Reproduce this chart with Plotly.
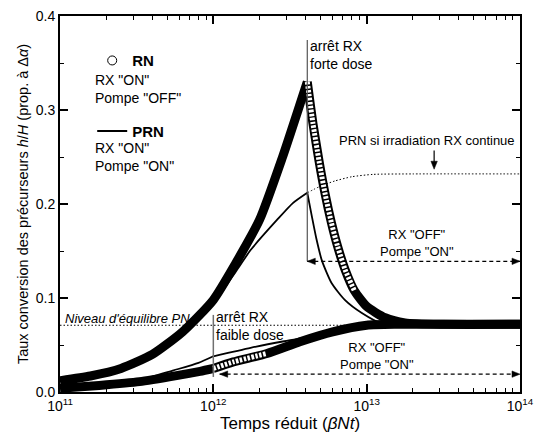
import math
import plotly.graph_objects as go

FONT = "Liberation Sans, Arial, Helvetica, sans-serif"

# ---------------- data (t = reduced time beta*N*t) ----------------
x_range_t = [1e11, 1e14]
eq_level = 0.071                  # Niveau d'equilibre PN
t_stop_fort = 4.1e12              # arret RX, forte dose
t_stop_faible = 1e12              # arret RX, faible dose

# RN (circles) - forte dose, RX "ON"
rn_fort_on_t = [1e11, 1.58e11, 2.5e11, 4e11, 6.3e11, 1e12, 1.4e12, 2e12, 2.8e12, 4.1e12]
rn_fort_on_y = [0.012, 0.017, 0.025, 0.040, 0.064, 0.098, 0.137, 0.183, 0.248, 0.330]
# RN - forte dose, RX "OFF", pompe "ON"
rn_fort_off_t = [4.1e12, 4.47e12, 4.9e12, 5.37e12, 5.89e12, 6.46e12, 7.24e12, 8.3e12,
                 1e13, 1.32e13, 1.78e13, 3.16e13, 1e14]
rn_fort_off_y = [0.330, 0.285, 0.245, 0.210, 0.180, 0.155, 0.130, 0.108,
                 0.091, 0.079, 0.0735, 0.072, 0.072]
# RN - faible dose, RX "ON"
rn_faib_on_t = [1e11, 1.8e11, 3.3e11, 6e11, 8.2e11, 1e12]
rn_faib_on_y = [0.004, 0.007, 0.011, 0.018, 0.022, 0.025]
# RN - faible dose, RX "OFF"
rn_faib_off_t = [1e12, 1.35e12, 2.24e12, 3.67e12, 6e12, 1e13, 1.6e13, 1e14]
rn_faib_off_y = [0.025, 0.032, 0.041, 0.0535, 0.064, 0.071, 0.072, 0.072]

# PRN (lines) - forte dose, RX "ON"
prn_fort_on_t = [1e11, 1.58e11, 2.5e11, 4e11, 6.3e11, 1e12, 1.4e12, 1.75e12, 2.6e12, 3.3e12, 4.1e12]
prn_fort_on_y = [0.011, 0.016, 0.024, 0.038, 0.061, 0.094, 0.128, 0.151, 0.183, 0.201, 0.212]
# PRN - forte dose, RX "OFF"
prn_fort_off_t = [4.1e12, 4.4e12, 4.7e12, 5.1e12, 5.9e12, 7.2e12, 9.3e12, 1.25e13, 1.8e13, 1e14]
prn_fort_off_y = [0.212, 0.186, 0.163, 0.140, 0.116, 0.098, 0.084, 0.073, 0.0718, 0.0718]
# PRN si irradiation RX continue (dotted)
prn_cont_t = [4.1e12, 5e12, 6.2e12, 8e12, 1.1e13, 2e13, 1e14]
prn_cont_y = [0.212, 0.219, 0.2245, 0.229, 0.2315, 0.232, 0.232]
# PRN - faible dose, RX "ON"
prn_faib_on_t = [1e11, 1.8e11, 3.3e11, 5.5e11, 8e11, 1e12]
prn_faib_on_y = [0.0035, 0.0065, 0.0125, 0.023, 0.031, 0.038]
# PRN - faible dose, RX "OFF"
prn_faib_off_t = [1e12, 1.75e12, 2.9e12, 3.7e12, 6e12, 1e13, 1.6e13, 1e14]
prn_faib_off_y = [0.038, 0.047, 0.054, 0.057, 0.066, 0.0715, 0.072, 0.072]

x_tick_vals = [1e11, 1e12, 1e13, 1e14]
x_tick_text = ["10<sup>11</sup>", "10<sup>12</sup>", "10<sup>13</sup>", "10<sup>14</sup>"]
x_minor_vals = [m * 10 ** e for e in (11, 12, 13) for m in range(2, 10)]

# ---------------- figure ----------------
fig = go.Figure()


def add_line(x, y, width, color="black", dash="solid", shape="spline"):
    fig.add_trace(go.Scatter(
        x=x, y=y, mode="lines",
        line=dict(color=color, width=width, dash=dash, shape=shape, smoothing=0.6),
        showlegend=False, hoverinfo="skip"))


# equilibrium level (dotted)
add_line(x_range_t, [eq_level, eq_level], 1, dash="1.5px,2px", shape="linear")
# PRN if irradiation continued (dotted)
add_line(prn_cont_t, prn_cont_y, 1, dash="1.5px,2px")

# RN bands (dense open circles -> thick band)
add_line(rn_fort_on_t, rn_fort_on_y, 9)
add_line(rn_faib_on_t, rn_faib_on_y, 9)
add_line(rn_fort_off_t, rn_fort_off_y, 9)
add_line(rn_faib_off_t, rn_faib_off_y, 9)
# open interior of the sparser circle chains (ladder look of overlapping circles)
add_line(rn_fort_off_t[:8], rn_fort_off_y[:8], 5, color="white", dash="2.5px,1.5px")
add_line(rn_faib_off_t[:3], rn_faib_off_y[:3], 5, color="white", dash="2.5px,1.5px")

# PRN lines
for xs, ys in [(prn_fort_on_t, prn_fort_on_y), (prn_fort_off_t, prn_fort_off_y),
               (prn_faib_on_t, prn_faib_on_y), (prn_faib_off_t, prn_faib_off_y)]:
    add_line(xs, ys, 1.8)

# legend entries
fig.add_trace(go.Scatter(x=[None], y=[None], mode="markers", name="<b>RN</b>",
                         legendgroup="rn",
                         marker=dict(symbol="circle-open", size=9, color="black",
                                     line=dict(width=1.0, color="black"))))
fig.add_trace(go.Scatter(x=[None], y=[None], mode="lines", name="<b>PRN</b>",
                         legendgroup="prn", line=dict(color="black", width=2)))

# ---------------- shapes (stop markers, arrows) ----------------
lg = math.log10
lx0, lx1 = lg(x_range_t[0]), lg(x_range_t[1])


def px(t):
    """paper-x fraction of a time value (log axis)"""
    return (lg(t) - lx0) / (lx1 - lx0)


ah_len = 8 / 460          # arrowhead length in paper-x
ah_half = 3.2 / 940       # arrowhead half height in data-y


def head_h(t, y, direction):
    x = px(t)
    xb = x - direction * ah_len
    return dict(type="path", xref="paper", yref="y",
                path=f"M{x},{y} L{xb},{y + ah_half} L{xb},{y - ah_half} Z",
                fillcolor="black", line=dict(color="black", width=0.5))


y_up, y_low = 0.139, 0.019
t_low_arrow = 1.1e12
shapes = [
    dict(type="line", xref="x", yref="y", x0=t_stop_fort, x1=t_stop_fort, y0=y_up, y1=0.3745,
         line=dict(color="#555555", width=1.2)),
    dict(type="line", xref="x", yref="y", x0=t_stop_faible, x1=t_stop_faible, y0=0.016, y1=0.082,
         line=dict(color="#707070", width=1.5)),
    dict(type="line", xref="x", yref="y", x0=t_stop_fort, x1=x_range_t[1], y0=y_up, y1=y_up,
         line=dict(color="black", width=1.2, dash="4px,3px")),
    dict(type="line", xref="x", yref="y", x0=t_low_arrow, x1=x_range_t[1], y0=y_low, y1=y_low,
         line=dict(color="black", width=1.2, dash="4px,3px")),
    head_h(x_range_t[1], y_up, 1), head_h(t_stop_fort, y_up, -1),
    head_h(x_range_t[1], y_low, 1), head_h(t_low_arrow, y_low, -1),
]
# vertical arrow to the dotted PRN line
t_varrow = 10 ** 13.44
xa = px(t_varrow)
tip = 0.237
shapes.append(dict(type="line", xref="paper", yref="y", x0=xa, x1=xa, y0=0.257, y1=tip + 0.006,
                   line=dict(color="black", width=1.2)))
shapes.append(dict(type="path", xref="paper", yref="y",
                   path=f"M{xa},{tip} L{xa - 3.2 / 460},{tip + 8 / 940} L{xa + 3.2 / 460},{tip + 8 / 940} Z",
                   fillcolor="black", line=dict(color="black", width=0.5)))
fig.update_layout(shapes=shapes)

txt = dict(showarrow=False, font=dict(family=FONT, size=14, color="black"))
txt13 = dict(showarrow=False, font=dict(family=FONT, size=13, color="black"))
ann = [
    dict(x=lg(t_stop_fort), y=0.359, xref="x", yref="y", xanchor="left", yanchor="middle",
         xshift=1, align="left", text="arrêt RX<br>forte dose", **txt),
    dict(x=lg(t_stop_faible), y=0.0702, xref="x", yref="y", xanchor="left", yanchor="middle",
         xshift=1, align="left", text="arrêt RX<br>faible dose", **txt),
    dict(x=13.394, y=0.268, xref="x", yref="y", xanchor="center", yanchor="middle",
         text="PRN si irradiation RX continue", **txt13),
    dict(x=13.329, y=0.158, xref="x", yref="y", xanchor="center", yanchor="middle",
         text="RX \"OFF\"<br>Pompe \"ON\"", **txt13),
    dict(x=13.068, y=0.0378, xref="x", yref="y", xanchor="center", yanchor="middle",
         text="RX \"OFF\"<br>Pompe \"ON\"", **txt13),
    dict(x=11.02, y=0.0787, xref="x", yref="y", xanchor="left", yanchor="middle",
         text="<i>Niveau d'équilibre PN</i>", **txt13),
    dict(x=0.0717, y=0.807, xref="paper", yref="paper", xanchor="left", yanchor="middle",
         align="left", text="RX \"ON\"<br>Pompe \"OFF\"", **txt),
    dict(x=0.0717, y=0.625, xref="paper", yref="paper", xanchor="left", yanchor="middle",
         align="left", text="RX \"ON\"<br>Pompe \"ON\"", **txt),
]
fig.update_layout(annotations=ann)

fig.update_layout(
    width=536, height=436,
    margin=dict(l=60, r=16, t=16, b=44, autoexpand=False),
    paper_bgcolor="white", plot_bgcolor="white",
    font=dict(family=FONT, size=14, color="black"),
    showlegend=True,
    legend=dict(x=0.07, y=0.925, xanchor="left", yanchor="top", bgcolor="rgba(0,0,0,0)",
                borderwidth=0, tracegroupgap=48, font=dict(size=15), itemwidth=30),
    xaxis=dict(type="log", range=[lx0, lx1], automargin=False,
               tickmode="array", tickvals=x_tick_vals, ticktext=x_tick_text,
               ticks="inside", ticklen=8, tickwidth=1.5, tickcolor="black",
               showline=True, linewidth=2, linecolor="black", mirror="ticks",
               showgrid=False, zeroline=False, tickfont=dict(size=14),
               minor=dict(tickmode="array", tickvals=x_minor_vals, ticks="inside",
                          ticklen=4, tickwidth=1.2, tickcolor="black", showgrid=False),
               title=dict(text="Temps réduit (<i>βNt</i>)", font=dict(size=17), standoff=2)),
    yaxis=dict(range=[0, 0.4], automargin=False, tickmode="linear", tick0=0, dtick=0.1,
               tickformat=".1f",
               ticks="inside", ticklen=8, tickwidth=1.5, tickcolor="black",
               showline=True, linewidth=2, linecolor="black", mirror="ticks",
               showgrid=False, zeroline=False, tickfont=dict(size=14),
               minor=dict(dtick=0.05, ticks="inside", ticklen=4, tickwidth=1.2,
                          tickcolor="black", showgrid=False),
               title=dict(text="Taux conversion des précurseurs <i>h</i>/<i>H</i> (prop. à Δ<i>α</i>)",
                          font=dict(size=14.5), standoff=4)),
)

fig.write_html("out.html", config={"displayModeBar": False},
               post_script="document.body.style.margin='0';document.body.style.overflow='hidden';")
